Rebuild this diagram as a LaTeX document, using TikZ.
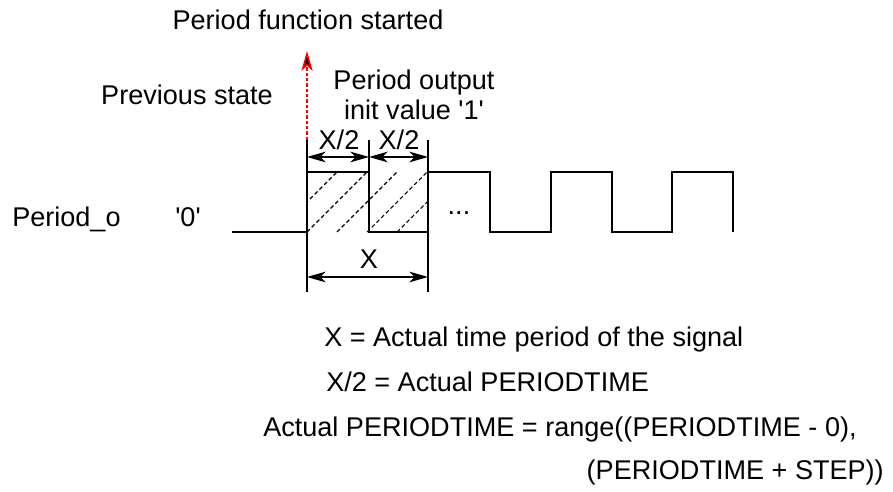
\documentclass[tikz,border=0pt]{standalone}
\usepackage{fontspec}
\setmainfont{Liberation Sans}
\usetikzlibrary{arrows.meta}
\begin{document}
\begin{tikzpicture}[x=0.75pt,y=-0.75pt,
  lbl/.style={inner sep=0pt, font=\fontsize{20.3}{24}\selectfont},
  sig/.style={line width=1.4pt, line join=miter},
  ext/.style={line width=1pt},
  dim/.style={line width=1pt, {Stealth[length=14pt,width=8pt,inset=4pt]}-{Stealth[length=14pt,width=8pt,inset=4pt]}},
  hatch/.style={line width=0.8pt, dash pattern=on 3pt off 2pt},
  redarr/.style={red, line width=1pt, dash pattern=on 2.5pt off 1.5pt, -{Stealth[length=15pt,width=8.5pt,inset=4pt,fill=black,line width=1.2pt]}}]
\useasboundingbox (0,0) rectangle (893,492);

% signal coordinates
\coordinate (s0) at (232,232);
\coordinate (r1b) at (307,232); \coordinate (r1t) at (307,172);
\coordinate (f1t) at (369,172); \coordinate (f1b) at (369,232);
\coordinate (r2b) at (428,232); \coordinate (r2t) at (428,172);
\coordinate (f2t) at (490,172); \coordinate (f2b) at (490,232);
\coordinate (r3b) at (551,232); \coordinate (r3t) at (551,172);
\coordinate (f3t) at (612,172); \coordinate (f3b) at (612,232);
\coordinate (r4b) at (672,232); \coordinate (r4t) at (672,172);
\coordinate (f4t) at (733,172); \coordinate (f4b) at (733,232);

% hatching
\begin{scope}
  \clip (307,172) rectangle (428,232);
  \foreach \c in {509,539,569,599,629}
    \draw[hatch] (\c-232,232) -- (\c-172,172);
\end{scope}

% signal
\draw[sig] (s0) -- (r1b) -- (r1t) -- (f1t) -- (f1b) -- (r2b) -- (r2t) -- (f2t) -- (f2b)
  -- (r3b) -- (r3t) -- (f3t) -- (f3b) -- (r4b) -- (r4t) -- (f4t) -- (f4b);

% extension lines
\coordinate (e1t) at (307,140); \coordinate (e1b) at (307,292);
\coordinate (e2t) at (369,140);
\coordinate (e3t) at (428,140); \coordinate (e3b) at (428,292);
\draw[ext] (e1t) -- (e1b);
\draw[ext] (e2t) -- (f1t);
\draw[ext] (e3t) -- (e3b);

% dimension arrows
\coordinate (d1a) at (307,157); \coordinate (d1b) at (369,157); \coordinate (d1c) at (428,157);
\coordinate (d2a) at (307,277); \coordinate (d2b) at (428,277);
\draw[dim] (d1a) -- (d1b);
\draw[dim] (d1b) -- (d1c);
\draw[dim] (d2a) -- (d2b);

% red start arrow
\coordinate (rs) at (307,140); \coordinate (re) at (307,51);
\draw[redarr] (rs) -- (re);

% labels
\node[lbl, anchor=base] (started) at (308,30) {Period function started};
\node[lbl, anchor=base] (prev) at (187,104) {Previous state};
\node[lbl, anchor=base] (pout) at (414,90) {Period output};
\node[lbl, anchor=base] (pinit) at (414,119) {init value \textquotesingle 1\textquotesingle};
\node[lbl, anchor=base] (xh1) at (339,149) {X/2};
\node[lbl, anchor=base] (xh2) at (399,149) {X/2};
\node[lbl, anchor=base west] (po) at (12,226) {Period\_o};
\node[lbl, anchor=base] (zero) at (188,226) {\textquotesingle 0\textquotesingle};
\node[lbl, anchor=base] (dots) at (459,214) {...};
\node[lbl, anchor=base] (xl) at (369,268) {X};
\node[lbl, anchor=base west] (t1) at (324,346) {X = Actual time period of the signal};
\node[lbl, anchor=base west] (t2) at (326,391) {X/2 = Actual PERIODTIME};
\node[lbl, anchor=base west] (t3) at (263,436) {Actual PERIODTIME = range((PERIODTIME - 0),};
\node[lbl, anchor=base east] (t4) at (884,479) {(PERIODTIME + STEP))};
\end{tikzpicture}
\end{document}
